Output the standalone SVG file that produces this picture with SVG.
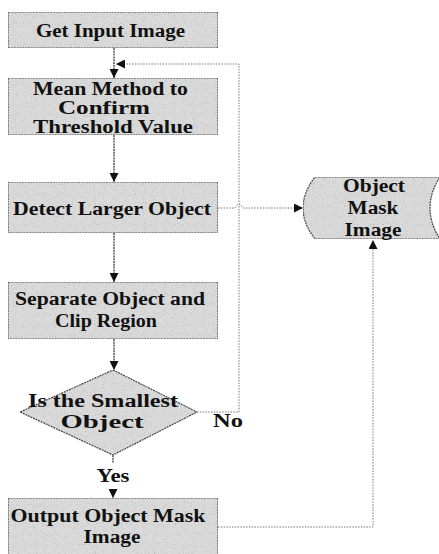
<svg xmlns="http://www.w3.org/2000/svg" width="439" height="554" viewBox="0 0 439 554">
  <defs>
    <!-- stippled grey fill used by every process shape -->
    <filter id="grain" x="0" y="0" width="100%" height="100%">
      <feTurbulence type="fractalNoise" baseFrequency="0.9" numOctaves="1" seed="7" result="noise"/>
      <feColorMatrix in="noise" type="matrix" values="0 0 0 0 0.45  0 0 0 0 0.45  0 0 0 0 0.45  3.2 0 0 0 -1.75" result="dots"/>
      <feComposite in="dots" in2="SourceAlpha" operator="in" result="clipped"/>
      <feMerge>
        <feMergeNode in="SourceGraphic"/>
        <feMergeNode in="clipped"/>
      </feMerge>
    </filter>
    <marker id="arrow" viewBox="0 0 10 10" refX="10" refY="5" markerWidth="9" markerHeight="9" markerUnits="userSpaceOnUse" orient="auto">
      <path d="M0,0 L10,5 L0,10 Z" fill="#111"/>
    </marker>
  </defs>
  <style>
    .shape { fill: #dadada; stroke: #3c3c3c; stroke-width: 1.2; stroke-dasharray: 2 0.8; filter: url(#grain); }
    .label { font-family: 'Liberation Serif', 'DejaVu Serif', serif; font-weight: 700; font-size: 18.5px; fill: #111; text-anchor: middle; }
    .flow { fill: none; stroke: #2a2a2a; stroke-width: 1.2; stroke-dasharray: 2 0.8; }
    .loop { fill: none; stroke: #777; stroke-width: 1; stroke-dasharray: 1.5 1.3; }
  </style>

  <g id="get-input">
    <rect class="shape" x="8" y="12" width="210" height="36"/>
    <text class="label" font-family="Liberation Serif, serif" x="110.5" y="37" textLength="149" lengthAdjust="spacingAndGlyphs">Get Input Image</text>
  </g>

  <g id="mean-threshold">
    <rect class="shape" x="8" y="78" width="210" height="57"/>
    <text class="label" x="110.5" y="95" textLength="155" lengthAdjust="spacingAndGlyphs">Mean Method to</text>
    <text class="label" x="104" y="114" textLength="92" lengthAdjust="spacingAndGlyphs">Confirm</text>
    <text class="label" x="113" y="133" textLength="160" lengthAdjust="spacingAndGlyphs">Threshold Value</text>
  </g>

  <g id="detect-larger">
    <rect class="shape" x="8" y="182" width="210" height="51"/>
    <text class="label" x="112" y="215" textLength="198" lengthAdjust="spacingAndGlyphs">Detect Larger Object</text>
  </g>

  <g id="separate-clip">
    <rect class="shape" x="8" y="282" width="210" height="57"/>
    <text class="label" x="110" y="305" textLength="190" lengthAdjust="spacingAndGlyphs">Separate Object and</text>
    <text class="label" x="106" y="327" textLength="102" lengthAdjust="spacingAndGlyphs">Clip Region</text>
  </g>

  <g id="smallest-check">
    <polygon class="shape" points="113,370 197,412 113,455 20,412"/>
    <text class="label" x="103" y="407" textLength="150" lengthAdjust="spacingAndGlyphs">Is the Smallest</text>
    <text class="label" x="102" y="428" textLength="83" lengthAdjust="spacingAndGlyphs">Object</text>
  </g>

  <g id="output-mask">
    <rect class="shape" x="8" y="498" width="210" height="60"/>
    <text class="label" x="108" y="522" textLength="195" lengthAdjust="spacingAndGlyphs">Output Object Mask</text>
    <text class="label" x="112" y="543" textLength="57" lengthAdjust="spacingAndGlyphs">Image</text>
  </g>

  <g id="mask-store">
    <path class="shape" d="M315,177 L440,177 Q420,208 440,239 L315,239 Q291,208 315,177 Z"/>
    <text class="label" x="374" y="192" textLength="62" lengthAdjust="spacingAndGlyphs">Object</text>
    <text class="label" x="373" y="214" textLength="51" lengthAdjust="spacingAndGlyphs">Mask</text>
    <text class="label" x="373" y="236" textLength="57" lengthAdjust="spacingAndGlyphs">Image</text>
  </g>

  <g id="connectors">
    <line class="flow" x1="114" y1="48" x2="114" y2="78" marker-end="url(#arrow)"/>
    <line class="flow" x1="114" y1="135" x2="114" y2="182" marker-end="url(#arrow)"/>
    <line class="flow" x1="114" y1="233" x2="114" y2="282" marker-end="url(#arrow)"/>
    <line class="flow" x1="114" y1="339" x2="114" y2="370" marker-end="url(#arrow)"/>
    <line class="flow" x1="113" y1="455" x2="113" y2="463"/>
    <line class="flow" x1="113" y1="489" x2="113" y2="498" marker-end="url(#arrow)"/>
    <!-- "No" branch loops back above the threshold step -->
    <path class="loop" d="M197,412 H239 V64 H116" marker-end="url(#arrow)"/>
    <!-- larger object to mask store, hopping over the loop line -->
    <path class="loop" d="M218,208 H235 Q239,201 243,208 H303" marker-end="url(#arrow)"/>
    <path class="loop" d="M218,527 H373 V240" marker-end="url(#arrow)"/>
    <text class="label" x="228" y="427" textLength="30" lengthAdjust="spacingAndGlyphs">No</text>
    <text class="label" x="113" y="482" textLength="33" lengthAdjust="spacingAndGlyphs">Yes</text>
  </g>
</svg>
